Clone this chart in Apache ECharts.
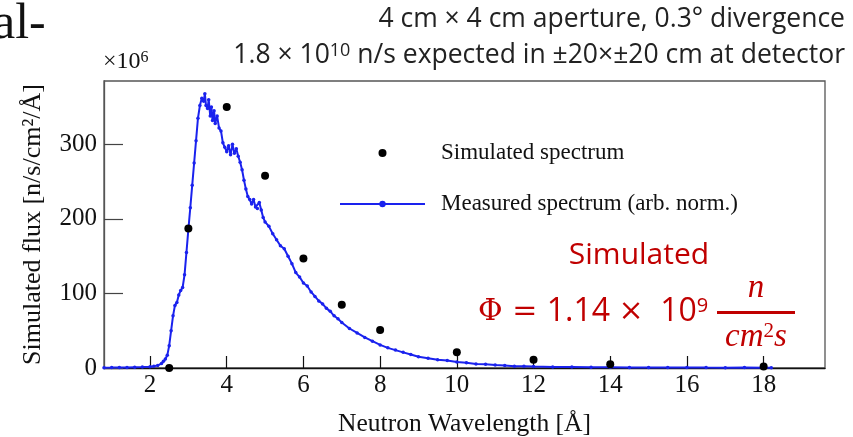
<!DOCTYPE html>
<html>
<head>
<meta charset="utf-8">
<script src="https://cdn.jsdelivr.net/npm/echarts@6/dist/echarts.min.js"></script>
<style>
  html, body { margin: 0; padding: 0; background: #fff; }
  #chart { width: 853px; height: 437px; }
</style>
</head>
<body>
<div id="chart"></div>
<script>
// simulated spectrum (black dots), flux in 1e6 n/s/cm2/A
const simWavelength = [2.5, 3, 4, 5, 6, 7, 8, 10, 12, 14, 18];
const simFlux = [0, 187, 350, 258, 147, 85, 51, 21, 11, 5, 2];

// measured spectrum (arb. norm.), [wavelength, flux]
const measured = [
  [0.8, 0.5], [1.0, 0.6], [1.2, 0.8], [1.4, 0.7], [1.6, 1.0], [1.8, 1.3], [2.0, 1.8],
  [2.1, 2.5], [2.2, 3.5], [2.3, 6], [2.35, 9], [2.4, 12], [2.45, 17], [2.5, 30],
  [2.55, 50], [2.6, 70], [2.65, 84], [2.7, 88], [2.75, 98], [2.8, 104], [2.85, 108],
  [2.9, 125], [2.95, 155], [3.0, 186], [3.05, 215], [3.1, 245], [3.15, 275], [3.2, 305],
  [3.25, 335], [3.3, 352], [3.35, 362], [3.4, 358], [3.43, 368], [3.46, 352], [3.5, 348],
  [3.53, 360], [3.57, 338], [3.6, 350], [3.63, 332], [3.67, 345], [3.7, 328], [3.75, 338],
  [3.8, 322], [3.85, 318], [3.9, 302], [3.95, 296], [4.0, 290], [4.05, 298], [4.1, 286],
  [4.15, 300], [4.2, 288], [4.25, 294], [4.3, 284], [4.35, 276], [4.4, 266], [4.45, 252],
  [4.5, 240], [4.55, 230], [4.6, 226], [4.65, 220], [4.7, 226], [4.75, 216], [4.8, 214],
  [4.85, 222], [4.9, 212], [4.95, 202], [5.0, 196], [5.1, 190], [5.2, 180], [5.3, 172],
  [5.4, 164], [5.5, 160], [5.6, 150], [5.7, 140], [5.8, 128], [5.9, 122], [6.0, 114],
  [6.1, 110], [6.2, 102], [6.3, 96], [6.4, 90], [6.5, 86], [6.6, 80], [6.7, 76],
  [6.8, 70], [6.9, 66], [7.0, 61], [7.2, 53], [7.4, 47], [7.6, 41], [7.8, 36],
  [8.0, 31], [8.2, 27], [8.4, 24], [8.6, 21], [8.8, 18], [9.0, 15], [9.25, 13],
  [9.5, 11], [9.75, 10], [10.0, 8], [10.25, 7], [10.5, 5.5], [10.75, 5], [11.0, 4],
  [11.25, 3.5], [11.5, 2.5], [11.75, 2.5], [12.0, 2], [12.5, 1.5], [13.0, 1.5], [13.5, 1],
  [14.0, 1], [14.5, 0.8], [15.0, 0.8], [15.5, 0.6], [16.0, 0.8], [16.5, 0.6], [17.0, 0.5],
  [17.5, 0.6], [18.0, 0.5], [18.2, 0.5]
];

const xTicks = [2, 4, 6, 8, 10, 12, 14, 16, 18];
const yTicks = [0, 100, 200, 300];

const serif = "Liberation Serif";
const sans = "Open Sans";
const red = "#c00000";
const blue = "#1a22ee";

const chart = echarts.init(document.getElementById("chart"));

let option = {
  animation: false,
  backgroundColor: "#fff",
  grid: {
    left: 104,
    top: 81,
    right: 28,
    bottom: 69,
    outerBoundsMode: "none",
    show: true,
    borderColor: "#555",
    borderWidth: 1.3,
  },
  legend: {
    orient: "vertical",
    left: 334,
    top: 135,
    itemWidth: 85,
    itemHeight: 8,
    itemGap: 25,
    textStyle: {
      fontFamily: serif,
      fontSize: 23,
      color: "#111",
      lineHeight: 26,
      padding: [0, 0, 0, 11],
    },
    data: ["Simulated spectrum", "Measured spectrum (arb. norm.)"],
  },
  xAxis: {
    type: "value",
    min: 0.8,
    max: 19.6,
    name: "Neutron Wavelength [Å]",
    nameLocation: "middle",
    nameGap: 43,
    nameTextStyle: { fontFamily: serif, fontSize: 25.5, color: "#111" },
    axisLine: { show: true, lineStyle: { color: "#111", width: 1.3 } },
    axisTick: {
      show: true,
      inside: true,
      length: 12,
      customValues: xTicks,
      lineStyle: { color: "#111", width: 1.2 },
    },
    axisLabel: {
      customValues: xTicks,
      fontFamily: serif,
      fontSize: 25,
      color: "#111",
      margin: 5,
    },
    splitLine: { show: false },
  },
  yAxis: {
    type: "value",
    min: 0,
    max: 385,
    name: "Simulated flux [n/s/cm²/Å]",
    nameLocation: "middle",
    nameGap: 58,
    nameTextStyle: { fontFamily: serif, fontSize: 26, color: "#111" },
    axisLine: { show: true, lineStyle: { color: "#555", width: 1.3 } },
    axisTick: {
      show: true,
      inside: true,
      length: 19,
      customValues: yTicks,
      lineStyle: { color: "#444", width: 1.2 },
    },
    axisLabel: {
      customValues: yTicks,
      fontFamily: serif,
      fontSize: 25,
      color: "#111",
      margin: 7,
    },
    splitLine: { show: false },
  },
  graphic: [
    {
      type: "text",
      left: -7,
      top: 0,
      style: { text: "al-", fontFamily: serif, fontSize: 50, fill: "#111" },
    },
    {
      type: "text",
      right: 8,
      top: 6,
      style: {
        text: "4 cm × 4 cm aperture, 0.3° divergence",
        fontFamily: sans,
        fontSize: 26.5,
        fill: "#222",
      },
    },
    {
      type: "text",
      right: 8,
      top: 42,
      style: {
        text: "1.8 × 10{sup|10} n/s expected in ±20×±20 cm at detector",
        fontFamily: sans,
        fontSize: 26.5,
        fill: "#222",
        rich: {
          sup: { fontFamily: sans, fontSize: 18, verticalAlign: "top", fill: "#222" },
        },
      },
    },
    {
      type: "text",
      left: 103,
      top: 50,
      style: {
        text: "×10{sup|6}",
        fontFamily: serif,
        fontSize: 24,
        fill: "#111",
        rich: {
          sup: { fontFamily: serif, fontSize: 16, verticalAlign: "top", fill: "#111" },
        },
      },
    },
    {
      type: "text",
      x: 639,
      y: 255,
      style: {
        text: "Simulated",
        fontFamily: sans,
        fontSize: 30,
        fill: red,
        align: "center",
        verticalAlign: "middle",
      },
    },
    {
      type: "text",
      x: 478,
      y: 312,
      style: {
        text: "{p|Φ = }1.14 {p|×}  10{sup|9}",
        fontFamily: sans,
        fontSize: 32,
        fill: red,
        verticalAlign: "middle",
        rich: {
          p: { fontFamily: "DejaVu Serif", fontSize: 30, fill: red },
          sup: { fontFamily: sans, fontSize: 20, verticalAlign: "top", fill: red },
        },
      },
    },
    {
      type: "text",
      x: 756,
      y: 288,
      style: {
        text: "n",
        fontFamily: serif,
        fontStyle: "italic",
        fontSize: 33,
        fill: red,
        align: "center",
        verticalAlign: "middle",
      },
    },
    {
      type: "line",
      shape: { x1: 717, y1: 312.5, x2: 795, y2: 312.5 },
      style: { stroke: red, lineWidth: 3 },
    },
    {
      type: "text",
      x: 756,
      y: 337,
      style: {
        text: "cm{sup|2}s",
        fontFamily: serif,
        fontStyle: "italic",
        fontSize: 33,
        fill: red,
        align: "center",
        verticalAlign: "middle",
        rich: {
          sup: { fontFamily: serif, fontSize: 21, verticalAlign: "top", fill: red },
        },
      },
    },
  ],
  series: [
    {
      name: "Simulated spectrum",
      type: "scatter",
      symbol: "circle",
      symbolSize: 8,
      clip: false,
      z: 5,
      itemStyle: { color: "#000", opacity: 1 },
      data: simWavelength.map((x, i) => [x, simFlux[i]]),
    },
    {
      name: "Measured spectrum (arb. norm.)",
      type: "line",
      symbol: "circle",
      symbolSize: 3.5,
      showAllSymbol: true,
      clip: false,
      lineStyle: { color: blue, width: 2 },
      itemStyle: { color: blue },
      data: measured,
    },
  ],
};

chart.setOption(option, true);
</script>
</body>
</html>
